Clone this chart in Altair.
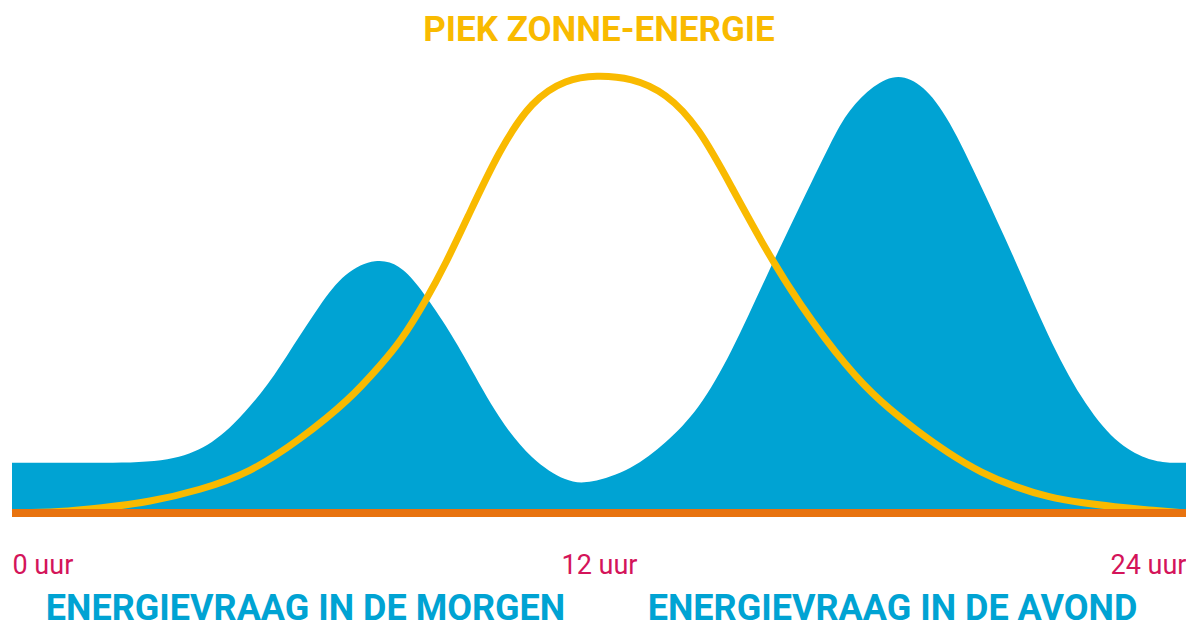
import altair as alt
import pandas as pd

# Energy demand (blue area), hour of day -> relative level
demand_hours = [0, 1.5, 3.02, 3.84, 4.51, 5.27, 5.73, 6.29, 6.8, 7.45, 7.92, 8.27, 8.8,
                9.29, 9.96, 10.63, 11.33, 11.8, 12.67, 13.37, 14.04, 14.71,
                15.41, 16.08, 16.76, 17.1, 17.61, 18.12, 18.63, 19.14, 19.82, 20.51,
                21.18, 21.86, 22.55, 23.22, 23.63, 24]
demand_values = [11.4, 11.4, 11.4, 13.9, 19.5, 29.5, 37.7, 47.3, 54.8, 58.0, 56.4, 52.3, 43.9,
                 34.8, 21.1, 12.0, 7.0, 6.6, 9.8, 15.9, 23.4, 36.4,
                 53.6, 69.1, 84.8, 91.6, 97.3, 100.0, 97.3, 90.0, 74.1, 57.5,
                 40.0, 25.7, 15.9, 12.0, 11.4, 11.4]

# Solar production (yellow line)
solar_hours = [0, 0.98, 1.8, 2.82, 3.84, 4.86, 5.88, 6.9, 7.57, 7.92, 8.47, 8.88, 9.29,
               9.96, 10.63, 11.33, 11.94, 12.67, 13.37, 14.04, 14.71, 15.41, 16.08,
               17.1, 17.78, 18.47, 19.14, 19.82, 20.51, 21.18, 21.86, 22.55, 23.22, 24]
solar_values = [0, 0.2, 1.1, 2.5, 5.2, 9.1, 16.6, 25.7, 34.1, 38.6, 48.4, 57.0, 66.6,
                82.5, 93.9, 98.6, 99.5, 98.9, 95.5, 87.7, 74.1, 59.8, 47.7,
                32.5, 25.0, 18.9, 13.6, 9.1, 5.9, 3.6, 2.3, 1.4, 0.7, 0]

tick_hours = [0, 12, 24]
tick_labels = ["0 uur", "12 uur", "24 uur"]

bottom_label_hours = [6, 18]
bottom_labels = ["ENERGIEVRAAG IN DE MORGEN", "ENERGIEVRAAG IN DE AVOND"]

title_hour = [12]
title_text = ["PIEK ZONNE-ENERGIE"]

demand_df = pd.DataFrame({"uur": demand_hours, "waarde": demand_values})
solar_df = pd.DataFrame({"uur": solar_hours, "waarde": solar_values})
base_df = pd.DataFrame({"uur": [0], "uur2": [24], "waarde": [0]})
label_df = pd.DataFrame({"uur": bottom_label_hours, "tekst": bottom_labels})
title_df = pd.DataFrame({"uur": title_hour, "tekst": title_text})

label_map = "{" + ", ".join(f"'{h}': '{t}'" for h, t in zip(tick_hours, tick_labels)) + "}"

# Plot area spans the whole picture height; value 0 sits at the orange baseline
PLOT_H = 622
BASE_PX = 505          # baseline distance from plot top
PX_PER_UNIT = 4.4
y_top = BASE_PX / PX_PER_UNIT
y_bottom = -(PLOT_H - BASE_PX) / PX_PER_UNIT

x_scale = alt.Scale(domain=[0, 24], nice=False, zero=False)
y_scale = alt.Scale(domain=[y_bottom, y_top], nice=False, zero=False)

BLUE = "#00A3D3"
YELLOW = "#F9BA00"
ORANGE = "#E8730F"
PINK = "#D4145A"
FONT = "Roboto"

x_enc = alt.X(
    "uur:Q",
    scale=x_scale,
    axis=alt.Axis(
        values=tick_hours,
        labelExpr=f"{label_map}[datum.value + '']",
        labelFlush=True,
        labelColor=PINK,
        labelFont=FONT,
        labelFontSize=27,
        labelPadding=39,
        offset=-(PLOT_H - BASE_PX),
        ticks=False,
        domain=False,
        grid=False,
        title=None,
    ),
)
y_enc = alt.Y("waarde:Q", scale=y_scale, axis=None)

area = alt.Chart(demand_df).mark_area(
    color=BLUE, interpolate="basis"
).encode(x=x_enc, y=y_enc, y2=alt.datum(0))

line = alt.Chart(solar_df).mark_line(
    color=YELLOW, strokeWidth=7, interpolate="basis"
).encode(x=alt.X("uur:Q", scale=x_scale), y=alt.Y("waarde:Q", scale=y_scale))

base = alt.Chart(base_df).mark_rule(
    color=ORANGE, strokeWidth=8
).encode(
    x=alt.X("uur:Q", scale=x_scale),
    x2="uur2:Q",
    y=alt.Y("waarde:Q", scale=y_scale),
)

labels = alt.Chart(label_df).mark_text(
    color=BLUE,
    font=FONT,
    fontWeight="bold",
    fontSize=36,
    baseline="alphabetic",
    align="center",
).encode(
    x=alt.X("uur:Q", scale=x_scale),
    y=alt.value(612),
    text="tekst:N",
)

title = alt.Chart(title_df).mark_text(
    color=YELLOW,
    font=FONT,
    fontWeight="bold",
    fontSize=35,
    baseline="alphabetic",
    align="center",
).encode(
    x=alt.X("uur:Q", scale=x_scale),
    y=alt.value(33),
    text="tekst:N",
)

chart = alt.layer(area, line, base, labels, title).properties(
    width=1174,
    height=PLOT_H,
    background="white",
    autosize=alt.AutoSizeParams(type="none"),
    padding={"left": 4, "top": 0, "right": 0, "bottom": 0},
).configure_view(strokeWidth=0, stroke="transparent")

chart.save("out.html", embed_options={"renderer": "svg", "actions": False})
